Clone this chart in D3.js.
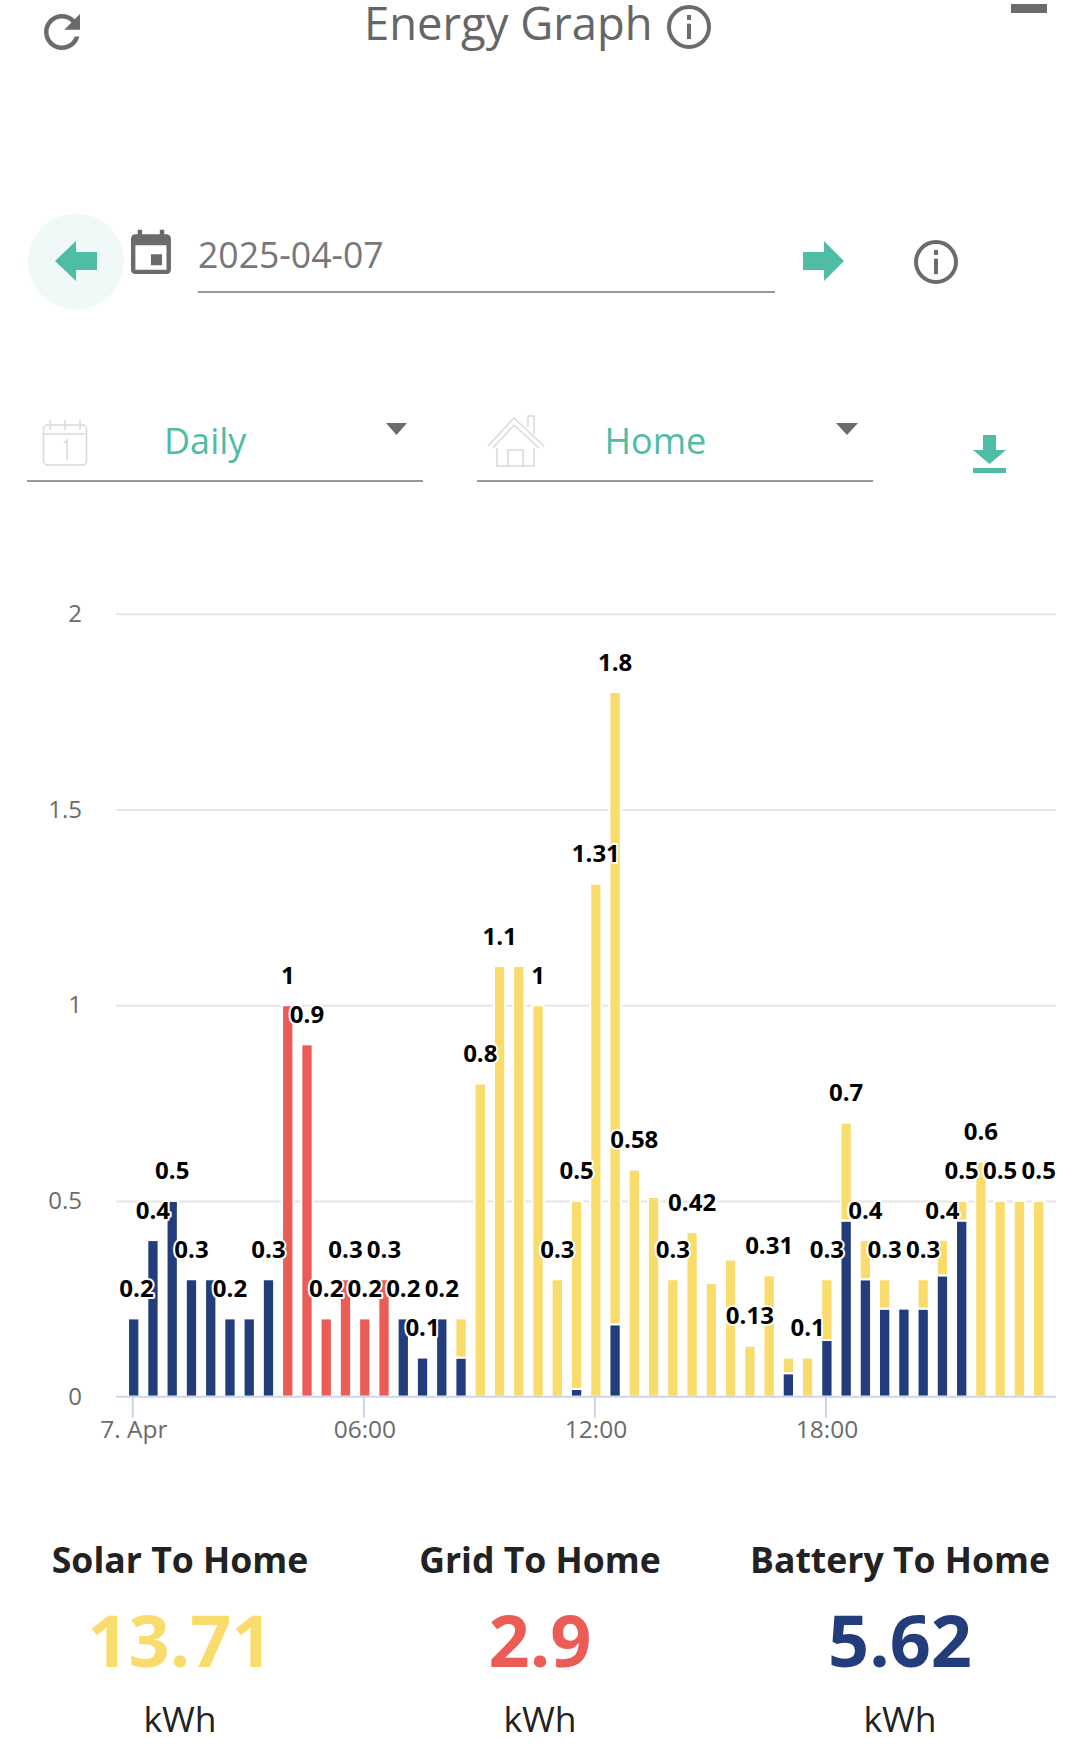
<!DOCTYPE html>
<html>
<head>
<meta charset="utf-8">
<script src="https://cdnjs.cloudflare.com/ajax/libs/d3/7.8.5/d3.min.js"></script>
<style>
    html, body { margin: 0; background: #fff; }
    svg { display: block; font-family: "Open Sans", sans-serif; }
</style>
</head>
<body>
<script>
// half hour slots, one value per slot (kWh)
const batteryValues = [0.2, 0.4, 0.5, 0.3, 0.3, 0.2, 0.2, 0.3, 0, 0, 0, 0, 0, 0, 0.2, 0.1,
    0.2, 0.1, 0, 0, 0, 0, 0, 0.02, 0, 0.185, 0, 0, 0, 0, 0, 0,
    0, 0, 0.06, 0, 0.145, 0.45, 0.3, 0.225, 0.225, 0.225, 0.31, 0.45, 0, 0, 0, 0];
const gridValues = [0, 0, 0, 0, 0, 0, 0, 0, 1, 0.9, 0.2, 0.3, 0.2, 0.3, 0, 0,
    0, 0, 0, 0, 0, 0, 0, 0, 0, 0, 0, 0, 0, 0, 0, 0,
    0, 0, 0, 0, 0, 0, 0, 0, 0, 0, 0, 0, 0, 0, 0, 0];
const solarValues = [0, 0, 0, 0, 0, 0, 0, 0, 0, 0, 0, 0, 0, 0, 0, 0,
    0, 0.1, 0.8, 1.1, 1.1, 1, 0.3, 0.48, 1.31, 1.615, 0.58, 0.51, 0.3, 0.42, 0.29, 0.35,
    0.13, 0.31, 0.04, 0.1, 0.155, 0.25, 0.1, 0.075, 0, 0.075, 0.09, 0.05, 0.6, 0.5, 0.5, 0.5];

// labels the chart dropped because they would overlap
const hiddenLabels = [4, 6, 17, 20, 27, 30, 31, 34, 40, 46];

const yTicks = [0, 0.5, 1, 1.5, 2];
const xTickHours = [0, 6, 12, 18];

const totalLabels = ["Solar To Home", "Grid To Home", "Battery To Home"];
const totalValues = ["13.71", "2.9", "5.62"];

const colors = { battery: "#233c7b", grid: "#ec5c56", solar: "#f9dc6c" };
const teal = "#4fbca5";
const grey = "#6b6b6b";

const slots = batteryValues.map((d, i) => ({
    time: new Date(2025, 3, 7, 0, i * 30),
    battery: d,
    grid: gridValues[i],
    solar: solarValues[i]
}));

const svg = d3.select("body").append("svg")
    .attr("width", 1080)
    .attr("height", 1758);

drawHeader();
drawChart();
drawTotals();

function drawChart() {
    const plotLeft = 116, plotRight = 1056;

    const x = d3.scaleTime()
        .domain([new Date(2025, 3, 7, 0), new Date(2025, 3, 7, 18)])
        .range([132.3, 825.5]);
    const y = d3.scaleLinear().domain([0, 2]).range([1396.7, 613.7]);

    const barOffset = 1.4, barWidth = 11.3;

    // grid
    const grid = svg.append("g")
        .attr("transform", `translate(${plotLeft},0)`)
        .call(d3.axisLeft(y).tickValues(yTicks.filter(d => d > 0)).tickSize(-(plotRight - plotLeft)).tickFormat(""));
    grid.select(".domain").remove();
    grid.selectAll("line").attr("stroke", "#e6e6e6").attr("stroke-width", 2);

    // stacked bars
    const stacked = d3.stack().keys(["battery", "grid", "solar"])(slots);
    svg.append("g").selectAll("g")
        .data(stacked)
        .enter().append("g")
        .attr("fill", d => colors[d.key])
        .selectAll("rect")
        .data(d => d.filter(p => p[1] > p[0]))
        .enter().append("rect")
        .attr("x", d => x(d.data.time) + barOffset - barWidth / 2)
        .attr("width", barWidth)
        .attr("y", d => y(d[1]))
        .attr("height", d => y(d[0]) - y(d[1]))
        .attr("stroke", "#fff")
        .attr("stroke-width", 2);

    // x axis
    const xAxis = svg.append("g")
        .attr("transform", `translate(0,${y(0)})`)
        .call(d3.axisBottom(x)
            .tickValues(xTickHours.map(h => new Date(2025, 3, 7, h)))
            .tickSize(21)
            .tickPadding(3)
            .tickFormat(d => d.getHours() === 0 ? "7. Apr" : d3.timeFormat("%H:%M")(d)));
    xAxis.select(".domain")
        .attr("d", `M${plotLeft},0H${plotRight}`)
        .attr("stroke", "#ccd6eb")
        .attr("stroke-width", 2);
    xAxis.selectAll("line").attr("stroke", "#ccd6eb").attr("stroke-width", 2);
    xAxis.selectAll("text")
        .attr("fill", grey)
        .style("font-family", "'Open Sans', sans-serif")
        .style("font-size", "24.5px")
        .attr("dx", 1);

    // y labels
    const yAxis = svg.append("g")
        .attr("transform", "translate(82,0)")
        .call(d3.axisLeft(y).tickValues(yTicks).tickSize(0).tickPadding(0).tickFormat(d => d));
    yAxis.select(".domain").remove();
    yAxis.selectAll("text")
        .attr("fill", grey)
        .style("font-family", "'Open Sans', sans-serif")
        .style("font-size", "24px");

    // total above each stack
    svg.append("g").selectAll("text")
        .data(slots.filter((d, i) => !hiddenLabels.includes(i)))
        .enter().append("text")
        .attr("x", d => Math.max(x(d.time) + barOffset, 136.5))
        .attr("y", d => y(d.battery + d.grid + d.solar) - 21.5)
        .attr("text-anchor", "middle")
        .style("font-size", "24px")
        .style("font-weight", 700)
        .style("paint-order", "stroke")
        .attr("fill", "#000")
        .attr("stroke", "#fff")
        .attr("stroke-width", 4)
        .attr("stroke-linejoin", "round")
        .text(d => +(d.battery + d.grid + d.solar).toFixed(2));
}

function drawTotals() {
    const centers = [180, 540, 900];
    const valueColors = [colors.solar, colors.grid, colors.battery];

    totalLabels.forEach((label, i) => {
        svg.append("text")
            .attr("x", centers[i]).attr("y", 1573)
            .attr("text-anchor", "middle")
            .attr("fill", "#222")
            .style("font-size", "35.6px")
            .style("font-weight", 700)
            .text(label);
        svg.append("text")
            .attr("x", centers[i]).attr("y", 1667)
            .attr("text-anchor", "middle")
            .attr("fill", valueColors[i])
            .style("font-size", "72px")
            .style("font-weight", 700)
            .text(totalValues[i]);
        svg.append("text")
            .attr("x", centers[i]).attr("y", 1732)
            .attr("text-anchor", "middle")
            .attr("fill", "#222")
            .style("font-size", "35.5px")
            .text("kWh");
    });
}

function infoIcon(cx, cy, r) {
    svg.append("circle").attr("cx", cx).attr("cy", cy).attr("r", r - 2)
        .attr("fill", "none").attr("stroke", grey).attr("stroke-width", 4);
    svg.append("rect").attr("x", cx - 2).attr("y", cy - r * 0.55).attr("width", 4).attr("height", 5).attr("fill", grey);
    svg.append("rect").attr("x", cx - 2).attr("y", cy - r * 0.15).attr("width", 4).attr("height", r * 0.7).attr("fill", grey);
}

function drawHeader() {
    // refresh
    svg.append("path")
        .attr("d", "M17.65 6.35C16.2 4.9 14.21 4 12 4c-4.42 0-7.99 3.58-7.99 8s3.57 8 7.99 8c3.73 0 6.84-2.55 7.73-6h-2.08c-.82 2.33-3.04 4-5.65 4-3.31 0-6-2.69-6-6s2.69-6 6-6c1.66 0 3.14.69 4.22 1.78L13 11h7V4l-2.35 2.35z")
        .attr("transform", "translate(35,5) scale(2.25)")
        .attr("fill", grey);

    svg.append("text").attr("x", 364).attr("y", 40)
        .attr("fill", "#666").style("font-size", "45.4px").text("Energy Graph");
    infoIcon(689, 27, 22);

    // minimise
    svg.append("rect").attr("x", 1011).attr("y", 4).attr("width", 36).attr("height", 9).attr("fill", grey);

    // date row
    svg.append("circle").attr("cx", 76).attr("cy", 261.5).attr("r", 48).attr("fill", "#f0f9f7");
    svg.append("path").attr("d", "M55,261L76,241V252H97V270H76V281Z").attr("fill", teal);
    svg.append("path")
        .attr("d", "M17 12h-5v5h5v-5zM16 1v2H8V1H6v2H5c-1.11 0-1.99.9-1.99 2L3 19c0 1.1.89 2 2 2h14c1.1 0 2-.9 2-2V5c0-1.1-.9-2-2-2h-1V1h-2zm3 18H5V8h14v11z")
        .attr("transform", "translate(124.3,227.5) scale(2.22)")
        .attr("fill", grey);
    svg.append("text").attr("x", 198).attr("y", 268)
        .attr("fill", "#777").style("font-size", "35.6px").text("2025-04-07");
    svg.append("rect").attr("x", 198).attr("y", 291).attr("width", 577).attr("height", 2).attr("fill", "#999");
    svg.append("path").attr("d", "M844,261L824,241V252H803V270H824V281Z").attr("fill", teal);
    infoIcon(936, 262, 22);

    // selects
    svg.append("rect").attr("x", 27).attr("y", 480).attr("width", 396).attr("height", 2).attr("fill", "#999");
    svg.append("rect").attr("x", 477).attr("y", 480).attr("width", 396).attr("height", 2).attr("fill", "#999");
    svg.append("text").attr("x", 164).attr("y", 454).attr("fill", teal).style("font-size", "36px").text("Daily");
    svg.append("text").attr("x", 604.500).attr("y", 454).attr("fill", teal).style("font-size", "36px").text("Home");
    svg.append("path").attr("d", "M386,423H407L396.500,435Z").attr("fill", grey);
    svg.append("path").attr("d", "M836,423H858L847,435Z").attr("fill", grey);

    // small calendar
    const light = svg.append("g").attr("fill", "none").attr("stroke", "#d9d9d9").attr("stroke-width", 1.5);
    light.append("rect").attr("x", 43.500).attr("y", 425).attr("width", 43).attr("height", 40).attr("rx", 4);
    light.append("path").attr("d", "M43.500,434H86.500M50,420V430M65,420V430M80,420V430M64,443L67,440V460");
    // house
    light.append("path").attr("transform", "translate(4,1)")
        .attr("d", "M484,445L510,417L540,445M489,447L510,424L535,447M493,447V465H530V447M504,465V449H519V465M524,426V415H530V433");

    // download
    svg.append("path").attr("d", "M973,450H983V435H996V450H1006L989.500,464Z").attr("fill", teal);
    svg.append("rect").attr("x", 973).attr("y", 468).attr("width", 33).attr("height", 5).attr("fill", teal);
}
</script>
</body>
</html>
